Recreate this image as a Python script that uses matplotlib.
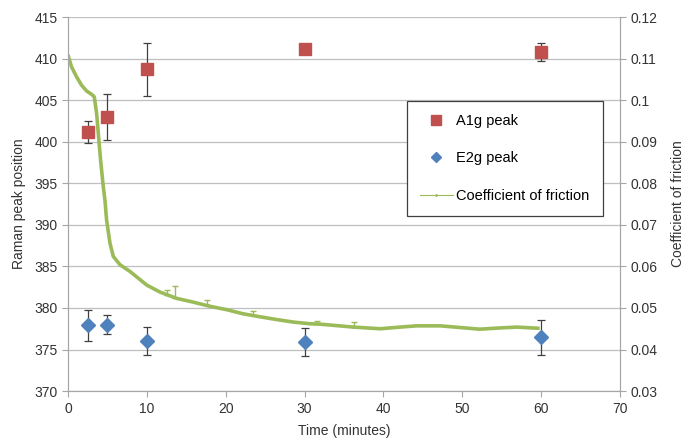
import matplotlib
matplotlib.use('Agg')
import matplotlib.pyplot as plt
from matplotlib.lines import Line2D

# Raman peaks (minutes, cm-1, error)
peak_time = [2.5, 5, 10, 30, 60]
a1g_pos = [401.2, 403.0, 408.7, 411.2, 410.8]
a1g_err = [1.3, 2.8, 3.2, 0.3, 1.1]
e2g_pos = [377.9, 378.0, 376.05, 375.9, 376.5]
e2g_err = [1.9, 1.1, 1.65, 1.65, 2.1]

# coefficient of friction trace
cof_time = [0, 0.46, 1.1, 1.73, 2.37, 3.0, 3.34, 3.64, 3.85, 4.14, 4.48, 4.69,
            4.9, 5.33, 5.75, 6.6, 7.86, 10, 11.7, 13.8, 15.9, 18, 20.1, 22.2,
            24.3, 26.5, 28.6, 30.7, 32, 36.2, 39.6, 42.1, 44.2, 47.2, 49.7,
            52.2, 54.8, 56.9, 59.8]
cof = [0.1109, 0.108, 0.1056, 0.1036, 0.1022, 0.1014, 0.1008, 0.0968, 0.092,
       0.0856, 0.0792, 0.076, 0.0712, 0.0656, 0.0624, 0.0604, 0.0588, 0.0555,
       0.0538, 0.0523, 0.0514, 0.0504, 0.0496, 0.0486, 0.0479, 0.0472, 0.0466,
       0.0462, 0.0461, 0.0454, 0.045, 0.0454, 0.0457, 0.0457, 0.0453, 0.0449,
       0.0452, 0.0454, 0.0451]
# a few visible error spikes on the friction trace
spike_time = [12.5, 13.6, 17.6, 23.5, 31.6, 36.3]
spike_base = [0.0532, 0.0524, 0.0508, 0.0482, 0.0461, 0.0454]
spike_up = [0.0012, 0.0028, 0.0012, 0.001, 0.0008, 0.0012]

red = '#C0504D'
blue = '#4F81BD'
green = '#9BBB59'
grey = '#A6A6A6'

plt.rcParams['font.family'] = ['Liberation Sans', 'DejaVu Sans']
fig = plt.figure(figsize=(6.86, 4.48), dpi=100)
ax = fig.add_axes([0.099, 0.127, 0.805, 0.835])
ax2 = ax.twinx()

ax.set_xlim(0, 70)
ax.set_ylim(370, 415)
ax.set_yticks(range(370, 416, 5))
ax.set_xticks(range(0, 71, 10))
ax.grid(axis='y', color='#BFBFBF', lw=0.9)
ax.set_axisbelow(True)

ax.errorbar(peak_time, a1g_pos, yerr=a1g_err, fmt='s', ms=8.8, color=red,
            ecolor='#404040', elinewidth=0.9, capsize=3, capthick=0.9, zorder=3)
ax.errorbar(peak_time, e2g_pos, yerr=e2g_err, fmt='D', ms=7, color=blue,
            ecolor='#404040', elinewidth=0.9, capsize=3, capthick=0.9, zorder=3)

ax2.set_ylim(0.03, 0.12)
ax2.set_yticks([0.03, 0.04, 0.05, 0.06, 0.07, 0.08, 0.09, 0.1, 0.11, 0.12])
ax2.set_yticklabels(['0.03', '0.04', '0.05', '0.06', '0.07', '0.08', '0.09',
                     '0.1', '0.11', '0.12'])
ax2.plot(cof_time, cof, color=green, lw=2.6, solid_capstyle='butt')
ax2.errorbar(spike_time, spike_base, yerr=[[0] * len(spike_up), spike_up],
             fmt='none', ecolor=green, elinewidth=1, capsize=2, capthick=1)

for a in (ax, ax2):
    for s in a.spines.values():
        s.set_color(grey)
    a.spines['top'].set_visible(False)
    a.tick_params(colors=grey, labelcolor='#333333', labelsize=10, length=4)

ax.set_xlabel('Time (minutes)', fontsize=10, color='#333333', labelpad=6)
ax.set_ylabel('Raman peak position', fontsize=10, color='#333333', labelpad=6)
ax2.set_ylabel('Coefficient of friction', fontsize=10, color='#333333', labelpad=10)

handles = [
    Line2D([], [], marker='s', ls='none', color=red, ms=7),
    Line2D([], [], marker='D', ls='none', color=blue, ms=5),
    Line2D([], [], color=green, lw=0.8, marker='.', ms=2),
]
leg = ax2.legend(handles, ['A1g peak', 'E2g peak', 'Coefficient of friction'],
                 loc='upper left', bbox_to_anchor=(0.6, 0.795), fontsize=10.5,
                 labelspacing=1.6, handlelength=2.3, handletextpad=0.2,
                 borderpad=0.9, fancybox=False, framealpha=1)
leg.get_frame().set_edgecolor('#404040')
leg.get_frame().set_linewidth(0.9)

fig.savefig('out.png', dpi=100)
